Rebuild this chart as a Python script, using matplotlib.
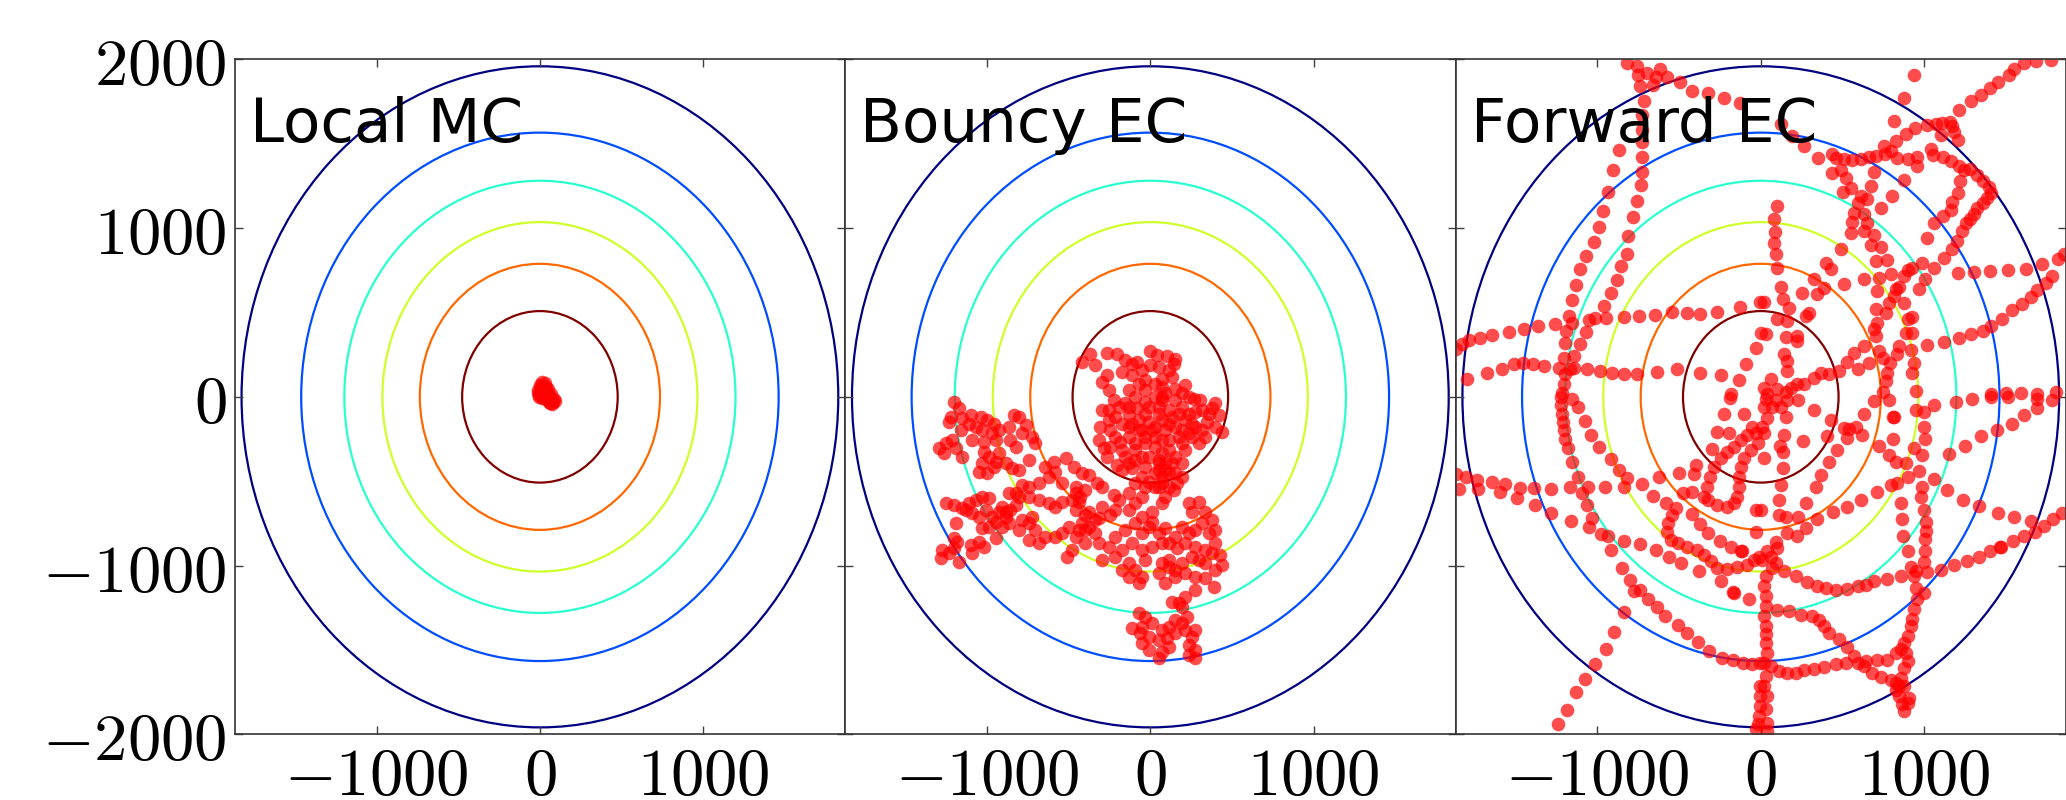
#!/usr/bin/python3

# three sampler snapshots (local MC, bouncy EC, forward EC) over the same
# elliptical contours of the target density

import matplotlib
matplotlib.use('Agg')
import matplotlib.pyplot as plt
from matplotlib.patches import Ellipse
from matplotlib.ticker import FuncFormatter
import numpy as np

# contour ellipses, semi-axes in data units, outermost (lowest level) first
contour_rx = [1826, 1461, 1197, 964, 735, 476]
contour_ry = [1958, 1565, 1280, 1035, 788, 508]

titles = ['Local MC', 'Bouncy EC', 'Forward EC']
xticks = [-1000, 0, 1000]
yticks = [-2000, -1000, 0, 1000, 2000]

# sample positions
local_pts = [(0, 70), (15, 85), (30, 80), (40, 60), (10, 50), (-10, 40), (5, 20),
             (20, 30), (35, 35), (50, 20), (25, 0), (40, -10), (60, 0), (70, -15),
             (55, -30), (80, -30), (75, -40), (90, -25), (45, 10), (65, 15),
             (-5, 10), (15, -5), (-12, 25), (30, 55), (5, 65), (50, 45), (85, -10),
             (60, -35), (30, 15), (-8, 0)]

bouncy_pts = [
    (-418, 207), (-367, 256), (-336, 187), (-265, 260), (-204, 256), (-153, 217),
    (-112, 197), (-81, 207), (0, 272), (41, 247), (102, 241), (153, 227),
    (-295, 89), (-265, 128), (-255, 39), (-173, 148), (-112, 128), (-51, 158),
    (0, 187), (51, 177), (112, 158), (143, 197),
    (-224, -20), (-295, -79), (-255, -138), (-306, -177), (-244, -197), (-173, -158),
    (-132, -108), (-81, -69), (-31, -30), (31, 0), (92, 20), (153, 49), (214, 69),
    (265, -10), (306, -20), (377, -69), (418, -108), (438, -207), (397, -177),
    (346, -148), (275, -89), (194, -59), (112, -79), (51, -99), (-10, -148),
    (-71, -197), (-132, -237), (-183, -266), (-244, -296), (-285, -306), (-265, -355),
    (-204, -404), (-153, -355), (-92, -316), (-31, -276), (31, -237), (92, -197),
    (153, -177), (214, -138), (255, -237), (295, -276), (214, -316), (153, -355),
    (92, -394), (51, -434), (112, -454), (-31, -414), (-112, -424), (-51, -473),
    (71, -473), (153, -454), (143, -552),
    (31, 79), (71, 108), (-31, 39), (-92, 0), (71, -138), (132, -118), (-31, -99),
    (-132, -177), (31, -296), (112, -256), (173, -237), (71, -335), (-10, -355),
    (-92, -375), (-173, -316), (-214, -118), (-153, -39), (153, -20), (234, 0),
    (194, -197), (-51, -197), (31, -177), (71, -20), (-10, -59), (112, -316),
    (51, -394), (194, -394), (275, -177), (336, -237), (356, -99), (234, -99),
    (-132, 39), (-71, 79), (-194, -59), (-112, -158),
    (-31, 99), (71, 59), (132, 118), (194, 20), (51, -59), (112, -158), (173, -99),
    (-31, -237), (-92, -276), (71, -256), (194, -276), (132, -394), (31, -454),
    (-51, -355), (-132, -394), (-173, -434), (71, 0), (10, -197), (92, -434),
    (163, -513), (71, -513), (31, -532), (-31, -532), (-92, -513), (51, -375),
    (-132, -59), (-71, -138), (255, -158), (316, -197), (397, -39), (316, -79),
    (234, -217), (194, -473), (112, -532), (-214, -237), (-255, -79), (-316, -256),
    (-10, -503), (51, -532), (92, -592), (71, -631), (-51, -592), (-92, -631),
    (-132, -572), (-194, -611), (-224, -582), (-295, -532), (-326, -513), (-397, -552),
    (-458, -572), (-438, -621), (-377, -680), (-316, -720), (-244, -700), (-295, -651),
    (-214, -670), (-132, -670), (-51, -710), (10, -680), (-10, -769), (-51, -809),
    (-92, -749), (-153, -789), (-214, -828), (-255, -887), (-316, -868), (-336, -809),
    (-397, -789), (-418, -749), (-458, -828), (-397, -868), (-479, -907), (-509, -947),
    (-295, -966), (-214, -947), (-173, -907), (-112, -868), (-51, -907), (10, -887),
    (71, -868), (51, -809), (10, -740), (92, -779),
    (234, -631), (295, -621), (255, -680), (336, -680), (377, -730), (397, -789),
    (356, -809), (316, -749), (275, -789), (234, -809), (194, -769), (153, -828),
    (112, -868), (163, -897), (214, -868), (275, -887), (336, -907), (397, -868),
    (377, -927), (428, -937), (438, -996), (397, -1025), (336, -986), (295, -966),
    (255, -947), (194, -986), (153, -1025), (112, -1006), (71, -986), (51, -1045),
    (92, -1104), (153, -1065), (214, -1045), (275, -1065), (336, -1075), (387, -1124),
    (275, -1144), (214, -1183), (173, -1223), (132, -1213), (112, -966), (-31, -966),
    (-92, -1025), (-132, -1065), (-71, -1104), (-51, -1065), (-132, -986), (-173, -1025),
    (194, -1242), (224, -1302), (194, -1341), (153, -1321), (112, -1361), (71, -1380),
    (10, -1341), (-31, -1302), (-71, -1282), (-51, -1361), (-10, -1420), (-51, -1459),
    (51, -1440), (102, -1430), (153, -1400), (214, -1380), (255, -1420), (275, -1380),
    (234, -1469), (275, -1499), (234, -1528), (71, -1509), (51, -1548), (-10, -1499),
    (-112, -1371), (-61, -1400), (275, -1548), (112, -1479),
    (-1202, -30), (-1171, -69), (-1222, -118), (-1232, -148), (-1151, -128), (-1100, -108),
    (-1039, -118), (-998, -138), (-957, -158), (-927, -197), (-968, -217), (-1029, -197),
    (-1069, -177), (-1110, -158), (-1161, -197), (-1212, -256), (-1253, -276), (-1293, -306),
    (-1263, -335), (-1192, -306), (-1151, -355), (-1090, -256), (-1019, -266), (-947, -256),
    (-866, -177), (-835, -108), (-805, -118), (-764, -168), (-784, -217), (-856, -256),
    (-825, -296), (-723, -237), (-703, -276), (-1019, -325), (-988, -355), (-927, -335),
    (-947, -385), (-1029, -394), (-1049, -444), (-998, -454), (-957, -414), (-886, -394),
    (-845, -424), (-805, -434), (-744, -375),
    (-642, -414), (-591, -385), (-519, -365), (-469, -414), (-418, -454), (-377, -463),
    (-458, -532), (-540, -513), (-581, -444), (-621, -473), (-682, -513), (-744, -532),
    (-784, -523), (-825, -572), (-866, -572), (-805, -592), (-744, -592), (-682, -611),
    (-621, -631), (-581, -651), (-540, -621), (-479, -611), (-428, -592), (-458, -670),
    (-397, -700), (-336, -730), (-377, -769), (-438, -789), (-499, -769), (-540, -809),
    (-581, -828), (-642, -828), (-703, -789), (-744, -749), (-784, -730), (-723, -710),
    (-805, -789), (-744, -848), (-682, -868), (-825, -641), (-886, -680),
    (-1253, -631), (-1202, -641), (-1151, -661), (-1110, -631), (-1069, -611), (-1029, -592),
    (-988, -601), (-1008, -670), (-968, -710), (-927, -680), (-886, -710), (-866, -749),
    (-906, -769), (-947, -740), (-988, -769), (-1029, -779), (-1049, -710), (-1090, -690),
    (-1131, -670), (-1192, -749), (-1202, -838), (-1181, -858), (-947, -838), (-1100, -878),
    (-1049, -858), (-1019, -887), (-1090, -927), (-1171, -976), (-1232, -927), (-1273, -907),
    (-1283, -956), (-1202, -897), (-906, -651), (-856, -670)]

forward_pts = [
    # upper left quarter
    (-820, 1976), (-759, 1960), (-751, 1907), (-698, 1921), (-618, 1940), (-643, 1897),
    (-571, 1893), (-659, 1848), (-494, 1862), (-418, 1814), (-322, 1799), (-224, 1769),
    (-126, 1743),
    (-738, 1842), (-714, 1755), (-724, 1671), (-724, 1582), (-728, 1507), (-728, 1420),
    (-728, 1330), (-734, 1255), (-759, 1162), (-785, 1066), (-812, 955), (-820, 849),
    (-857, 774), (-881, 695), (-918, 613), (-959, 538), (-1071, 384), (-1106, 311),
    (-1142, 242), (-1167, 164),
    (-867, 1464), (-902, 1345), (-938, 1212), (-965, 1103), (-993, 1005), (-1020, 916),
    (-1069, 837), (-1106, 758), (-1130, 660), (-1157, 573), (-1173, 479), (-1193, 390),
    (-1197, 317), (-1204, 232), (-1197, 134), (-1204, 75), (-1214, 20),
    (-1867, 282), (-1826, 311), (-1785, 335), (-1718, 351), (-1642, 364), (-1544, 384),
    (-1448, 400), (-1363, 420), (-1259, 433), (-1153, 439), (-1051, 453), (-1014, 465),
    (-949, 469), (-840, 475), (-745, 479), (-647, 485), (-541, 504), (-449, 494),
    (-373, 493), (-265, 504), (-126, 534), (-4, 561),
    (-1795, 108), (-1677, 140), (-1585, 164), (-1510, 193), (-1455, 199), (-1397, 193),
    (-1326, 183), (-1234, 173), (-1142, 173), (-1065, 164), (-983, 154), (-908, 144),
    (-840, 138), (-755, 138), (-636, 150), (-514, 167), (-371, 144), (-245, 128),
    (-133, 100),
    (-31, 292), (-92, 193), (0, 380), (-184, 16),
    # upper right quarter
    (1612, 1980), (1683, 1992), (1775, 1996), (1550, 1941), (1520, 1907), (1452, 1862),
    (938, 1907), (1404, 1829), (1346, 1789), (1285, 1750), (1214, 1700), (877, 1769),
    (816, 1635), (1020, 1612), (1071, 1618), (1112, 1622), (1159, 1626), (1173, 1602),
    (1183, 1567), (1204, 1523), (1102, 1553), (1040, 1468), (942, 1592), (887, 1559),
    (826, 1513), (755, 1488), (265, 1488), (122, 1618), (194, 1547), (351, 1415),
    (435, 1439), (459, 1415), (510, 1409), (561, 1405), (612, 1409), (663, 1421),
    (704, 1429), (759, 1440), (800, 1454), (836, 1415), (898, 1411), (959, 1421),
    (959, 1370), (1051, 1435), (1118, 1421), (1163, 1395), (1214, 1370), (1244, 1346),
    (1281, 1350), (435, 1326), (490, 1346), (694, 1330), (877, 1287), (1326, 1316),
    (520, 1297), (551, 1237), (506, 1212), (673, 1251), (806, 1192), (612, 1188),
    (653, 1172), (592, 1149), (734, 1119), (102, 1129), (1220, 1277), (1204, 1208),
    (1173, 1153), (1363, 1277), (1397, 1241), (1408, 1208), (1387, 1178), (1357, 1149),
    (1326, 1119), (1163, 1106), (571, 1090), (632, 1086), (561, 1035), (653, 1031),
    (551, 972), (632, 981), (82, 1054), (86, 976), (694, 956), (1118, 1070),
    (1061, 1031), (1016, 942), (1306, 1086), (1281, 1054), (1255, 1031), (1234, 981),
    (1200, 926), (490, 877), (673, 897), (734, 889), (82, 909), (92, 844), (98, 765),
    (398, 790), (428, 755), (704, 804), (771, 808), (1173, 877), (1122, 820),
    (1061, 765), (989, 794), (928, 765), (1204, 735), (1306, 739), (1404, 745),
    (1510, 751), (1622, 759), (1724, 784), (1820, 814), (1856, 844), (326, 700),
    (122, 652), (255, 617), (347, 607), (388, 647), (510, 666), (632, 696), (724, 706),
    (796, 725), (877, 716), (1004, 700), (826, 641), (847, 652), (816, 597), (785, 558),
    (714, 627), (877, 558), (969, 637), (898, 751), (133, 581), (173, 528), (20, 562),
    (704, 522), (765, 499), (1785, 715), (1744, 672), (1693, 632), (1652, 593),
    (1601, 548), (1540, 515), (1479, 463), (275, 479), (296, 499), (102, 459),
    (163, 449), (928, 475), (898, 463), (714, 440), (694, 404), (704, 361), (887, 381),
    (928, 377), (1408, 420), (1357, 390), (1285, 371), (1214, 351), (1122, 325),
    (1020, 306), (31, 371), (153, 357), (224, 361), (224, 331), (632, 302), (571, 259),
    (530, 209), (479, 154), (418, 134), (367, 144), (326, 109), (143, 252), (163, 213),
    (159, 154), (724, 272), (745, 233), (792, 203), (847, 302), (836, 252), (918, 278),
    (938, 203), (928, 144), (663, 203), (592, 164), (775, 144), (265, 75), (224, 75),
    (184, 55), (102, 45), (61, 105), (20, 55), (153, 26), (41, 16), (765, 95),
    (745, 26), (949, 35), (1408, 16), (1499, 20), (1591, 20), (1693, 16), (1805, 26),
    # lower left quarter
    (-1224, 0), (-1220, -49), (-1214, -99), (-1210, -148), (-1204, -197), (-1197, -252),
    (-1177, -305), (-1153, -384), (-1118, -473), (-1096, -571), (-1065, -640),
    (-1051, -772), (-1030, -719), (-979, -814), (-938, -823), (-918, -910), (-847, -1011),
    (-800, -1084), (-777, -1149), (-740, -1143), (-690, -1196), (-638, -1245),
    (-585, -1300), (-506, -1349), (-449, -1399), (-387, -1454), (-316, -1507),
    (-239, -1546), (-167, -1560), (-106, -1576), (-55, -1580), (-4, -1576),
    (-1153, -10), (-1118, -63), (-1077, -142), (-1040, -227), (-989, -296), (-918, -370),
    (-867, -433), (-816, -483), (-1163, -735),
    (-840, -851), (-738, -873), (-644, -910), (-563, -950), (-491, -985), (-377, -1034),
    (-245, -1089), (-167, -1156), (-71, -1196),
    (-1867, -457), (-1846, -548), (-1805, -477), (-1734, -493), (-1730, -548),
    (-1648, -506), (-1595, -561), (-1565, -518), (-1489, -601), (-1473, -538),
    (-1387, -542), (-1383, -640), (-1285, -548), (-1281, -686), (-1167, -532),
    (-1055, -532), (-955, -532), (-836, -536), (-728, -516), (-659, -585), (-583, -626),
    (-622, -473), (-500, -453),
    (-836, -1277), (-898, -1393), (-945, -1493), (-1014, -1582), (-1077, -1671),
    (-1130, -1749), (-1189, -1856), (-1244, -1940),
    (-520, -660), (-541, -699), (-567, -749), (-571, -798), (-551, -847), (-506, -867),
    (-449, -887), (-388, -906), (-347, -936), (-306, -975), (-265, -1015), (-204, -1020),
    (-143, -1009), (-82, -995), (-41, -965), (-10, -946),
    (-347, -591), (-330, -532), (-310, -473), (-286, -414), (-245, -364), (-204, -325),
    (-163, -296), (-122, -256), (-82, -227), (-31, -217), (-326, -611), (-265, -640),
    (-204, -650), (-163, -626), (-143, -591), (-133, -532), (-133, -473), (-122, -414),
    (-102, -364), (-61, -315), (-20, -276),
    (-188, -4), (-224, -99), (-102, -99), (-265, -207), (-194, -217), (-296, -311),
    (-51, -177), (-31, -670), (-31, -798), (-122, -916), (-163, -1162), (-371, -753),
    (-326, -808), (-249, -851), (-184, -887), (-112, -916), (-422, -693), (-477, -571),
    (-422, -561), (-410, -457), (-396, -404),
    (-4, -1714), (-4, -1773), (-4, -1832), (-10, -1891), (-20, -1940), (-31, -1970),
    # lower right quarter
    (31, -10), (92, -16), (163, -20), (228, -20), (20, -59), (71, -63), (122, -59),
    (153, -122), (326, -75), (694, -24), (785, -16), (949, -79), (996, -89), (816, -122),
    (1061, -49), (1193, -30), (1295, -10), (1408, 0), (1510, 0), (1693, -10),
    (1785, -16), (1689, -69), (1612, -108), (41, -128), (10, -181), (20, -217),
    (143, -227), (261, -260), (428, -138), (510, -187), (541, -193), (581, -177),
    (530, -246), (632, -102), (622, -227), (724, -292), (810, -252), (812, -122),
    (1000, -177), (1004, -252), (938, -305), (1540, -162), (1444, -197), (1346, -232),
    (1248, -292), (116, -292), (133, -325), (469, -315), (408, -232), (139, -424),
    (418, -384), (371, -463), (337, -532), (785, -345), (826, -384), (887, -394),
    (969, -437), (989, -345), (898, -473), (1061, -489), (1153, -339), (1142, -552),
    (1240, -611), (832, -512), (796, -522), (714, -561), (20, -364), (612, -611),
    (530, -650), (439, -680), (122, -522), (112, -611), (275, -626), (989, -536),
    (979, -591), (857, -630), (1000, -670), (1336, -646), (1452, -690), (1550, -713),
    (347, -725), (275, -778), (228, -709), (153, -713), (112, -699), (0, -670),
    (1652, -733), (1734, -768), (1791, -725), (1846, -690), (1677, -798), (1612, -823),
    (1546, -851), (1465, -890), (1010, -739), (1010, -792), (1004, -843), (867, -725),
    (873, -823), (898, -916), (224, -827), (163, -808), (92, -857), (102, -896),
    (41, -916), (61, -946), (1004, -916), (1000, -981), (918, -1009), (949, -1034),
    (1020, -1040), (1102, -1024), (1183, -995), (1265, -975), (1336, -946), (1404, -916),
    (1469, -887), (10, -965), (92, -985), (71, -1015), (143, -1034), (214, -1064),
    (282, -1095), (347, -1119), (398, -1133), (459, -1143), (526, -1139), (592, -1123),
    (643, -1113), (694, -1089), (775, -1080), (857, -1064), (938, -1064), (31, -1064),
    (20, -1123), (949, -1133), (1000, -1162), (959, -1198), (938, -1257), (928, -1316),
    (31, -1182), (31, -1241), (102, -1261), (173, -1271), (245, -1290), (316, -1296),
    (357, -1324), (20, -1300), (31, -1359), (918, -1355), (898, -1414), (877, -1458),
    (857, -1493), (826, -1517), (775, -1556), (710, -1560), (643, -1566), (592, -1576),
    (388, -1359), (418, -1399), (479, -1434), (530, -1481), (571, -1537), (31, -1403),
    (31, -1458), (41, -1517), (20, -1576), (520, -1576), (459, -1582), (388, -1600),
    (326, -1615), (265, -1619), (214, -1635), (163, -1635), (112, -1625), (61, -1596),
    (31, -1655), (632, -1592), (683, -1635), (734, -1659), (800, -1675), (826, -1694),
    (857, -1665), (877, -1606), (898, -1566), (887, -1517), (826, -1734), (847, -1773),
    (867, -1822), (877, -1862), (898, -1812), (908, -1783), (877, -1714), (847, -1710),
    (41, -1773), (31, -1852), (41, -1931), (41, -1980), (20, -1714)]

plt.rcParams['mathtext.fontset'] = 'cm'

fig, axes = plt.subplots(1, 3, sharey=True, figsize=(10.33, 4), dpi=200)
fig.subplots_adjust(left=0.1136, right=1.0, bottom=0.0819, top=0.926, wspace=0)

cmap = plt.get_cmap('jet')
ncont = len(contour_rx)
fmt = FuncFormatter(lambda v, p: r'$%d$' % v)

for ax, title, pts in zip(axes, titles, [local_pts, bouncy_pts, forward_pts]):
    for i in range(ncont):
        e = Ellipse((0, 0), 2 * contour_rx[i], 2 * contour_ry[i], fill=False,
                    edgecolor=cmap(i / (ncont - 1)), linewidth=0.8, zorder=1)
        ax.add_patch(e)
    p = np.array(pts).T
    ax.scatter(p[0], p[1], s=24, color='red', alpha=0.7, linewidths=0, zorder=2)
    ax.text(0.025, 0.877, title, transform=ax.transAxes, fontsize=22, va='baseline')
    ax.set_xlim(-1868, 1868)
    ax.set_ylim(-2000, 2000)
    ax.set_xticks(xticks)
    ax.set_yticks(yticks)
    ax.xaxis.set_major_formatter(fmt)
    ax.yaxis.set_major_formatter(fmt)
    ax.tick_params(direction='in', top=True, right=True, length=2.8, width=0.5,
                   color='0.25', labelsize=24, pad=3)
    for s in ax.spines.values():
        s.set_linewidth(0.6)
        s.set_edgecolor('0.2')

for ax in axes[1:]:
    ax.tick_params(labelleft=False)

plt.savefig('out.png', dpi=200)
